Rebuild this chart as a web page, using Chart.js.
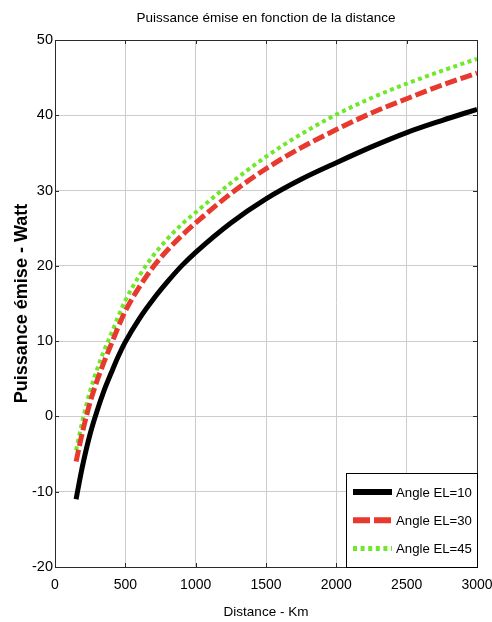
<!DOCTYPE html>
<html>
<head>
<meta charset="utf-8">
<script src="https://cdn.jsdelivr.net/npm/chart.js@4/dist/chart.umd.min.js"></script>
<style>
  html, body { margin: 0; padding: 0; background: #fff; }
  #wrap { width: 492px; height: 622px; }
</style>
</head>
<body>
<div id="wrap"><canvas id="c" width="492" height="622"></canvas></div>
<script>
// ---- Data ----
const distances = [150, 175, 200, 250, 300, 350, 400, 450, 500, 600, 700, 800, 900, 1000, 1250, 1500, 1750, 2000, 2250, 2500, 2750, 3000];
const powerEL10 = [-11, -8.5, -6.2, -2.3, 0.8, 3.5, 5.8, 8.0, 9.9, 13.0, 15.6, 17.9, 20.0, 21.8, 25.7, 28.9, 31.5, 33.7, 35.8, 37.7, 39.3, 40.8];
const powerEL30 = [-6, -3.8, -1.7, 1.9, 4.8, 7.3, 9.6, 11.9, 14.0, 17.2, 19.9, 22.1, 24.0, 25.7, 29.6, 32.9, 35.7, 38.1, 40.3, 42.2, 44.0, 45.6];
const powerEL45 = [-4.5, -2.3, -0.2, 3.4, 6.3, 8.8, 11.0, 13.3, 15.4, 18.7, 21.4, 23.6, 25.5, 27.1, 31.0, 34.5, 37.5, 40.1, 42.3, 44.2, 45.9, 47.5];
const seriesLabels = ['Angle EL=10', 'Angle EL=30', 'Angle EL=45'];
const xTickValues = [0, 500, 1000, 1500, 2000, 2500, 3000];
const yTickValues = [-20, -10, 0, 10, 20, 30, 40, 50];
const chartTitle = 'Puissance émise en fonction de la distance';
const xTitle = 'Distance - Km';
const yTitle = 'Puissance émise - Watt';

const FAM = "'Liberation Sans', Arial, Helvetica, sans-serif";

const toXY = (vals) => distances.map((d, i) => ({ x: d, y: vals[i] }));

const AXIS_COLOR = '#2a2a2a';
const GRID_COLOR = '#cccccc';

const boxPlugin = {
  id: 'matlabBox',
  afterDatasetsDraw(chart) {
    const { ctx, chartArea: a, scales } = chart;
    ctx.save();
    ctx.strokeStyle = AXIS_COLOR;
    ctx.lineWidth = 1;
    ctx.beginPath();
    xTickValues.forEach(v => {
      const px = Math.round(scales.x.getPixelForValue(v)) + 0.5;
      ctx.moveTo(px, a.bottom); ctx.lineTo(px, a.bottom - 4);
      ctx.moveTo(px, a.top); ctx.lineTo(px, a.top + 4);
    });
    yTickValues.forEach(v => {
      const py = Math.round(scales.y.getPixelForValue(v)) + 0.5;
      ctx.moveTo(a.left, py); ctx.lineTo(a.left + 4, py);
      ctx.moveTo(a.right, py); ctx.lineTo(a.right - 4, py);
    });
    ctx.stroke();
    ctx.strokeRect(Math.round(a.left) + 0.5, Math.round(a.top) + 0.5,
                   Math.round(a.right - a.left), Math.round(a.bottom - a.top));
    ctx.restore();
  }
};

const legendPlugin = {
  id: 'boxLegend',
  afterDraw(chart) {
    const { ctx, chartArea: a } = chart;
    const w = 131, h = 94;
    const x = Math.round(a.right) - w, y = Math.round(a.bottom) - h;
    ctx.save();
    ctx.fillStyle = '#fff';
    ctx.fillRect(x, y, w, h);
    ctx.strokeStyle = '#000';
    ctx.lineWidth = 1;
    ctx.strokeRect(x + 0.5, y + 0.5, w, h);
    chart.data.datasets.forEach((ds, i) => {
      const cy = y + 19 + i * 28.3;
      ctx.strokeStyle = ds.borderColor;
      ctx.lineWidth = ds.legendWidth;
      ctx.lineCap = 'butt';
      ctx.setLineDash(ds.legendDash);
      ctx.beginPath();
      ctx.moveTo(x + 7, cy);
      ctx.lineTo(x + 46, cy);
      ctx.stroke();
      ctx.setLineDash([]);
      ctx.fillStyle = '#000';
      ctx.font = '13.2px ' + FAM;
      ctx.textBaseline = 'middle';
      ctx.textAlign = 'left';
      ctx.fillText(ds.label, x + 50, cy + 1);
    });
    ctx.restore();
  }
};

new Chart(document.getElementById('c'), {
  type: 'line',
  data: {
    datasets: [
      { label: seriesLabels[0], data: toXY(powerEL10), borderColor: '#000000', borderWidth: 5,
        legendWidth: 6, legendDash: [], borderCapStyle: 'butt' },
      { label: seriesLabels[1], data: toXY(powerEL30), borderColor: '#e8392e', borderWidth: 5,
        borderDash: [12, 4], legendWidth: 6, legendDash: [17, 4], borderCapStyle: 'butt' },
      { label: seriesLabels[2], data: toXY(powerEL45), borderColor: '#70e82a', borderWidth: 4,
        borderDash: [4, 3.5], legendWidth: 5, legendDash: [4, 3.6], borderCapStyle: 'butt' }
    ]
  },
  options: {
    responsive: false,
    animation: false,
    devicePixelRatio: 1,
    elements: {
      point: { radius: 0, hoverRadius: 0 },
      line: { cubicInterpolationMode: 'monotone', fill: false }
    },
    layout: { padding: { top: 0, right: 15, bottom: 0, left: 0 } },
    plugins: {
      legend: { display: false },
      tooltip: { enabled: false },
      title: {
        display: true,
        text: chartTitle,
        fullSize: false,
        color: '#000',
        font: { family: FAM, size: 13.5, weight: 'normal', lineHeight: 1.2 },
        padding: { top: 10, bottom: 40 - 10 - 13.5 * 1.2 }
      }
    },
    scales: {
      x: {
        type: 'linear',
        min: 0, max: 3000,
        afterBuildTicks(scale) { scale.ticks = xTickValues.map(v => ({ value: v })); },
        afterFit(scale) { scale.height = 55; scale.paddingRight = 0; scale.paddingLeft = 0; },
        ticks: { color: '#000', font: { family: FAM, size: 14 }, padding: 10, maxRotation: 0, autoSkip: false,
                 callback: (v) => String(v) },
        grid: { color: GRID_COLOR, lineWidth: 1, drawTicks: false },
        border: { display: true, color: AXIS_COLOR, width: 1 },
        title: { display: true, text: xTitle, color: '#000',
                 font: { family: FAM, size: 13.5, lineHeight: 1.2 }, padding: { top: 0, bottom: 2 } }
      },
      y: {
        type: 'linear',
        min: -20, max: 50,
        afterBuildTicks(scale) { scale.ticks = yTickValues.map(v => ({ value: v })); },
        afterFit(scale) { scale.width = 55; scale.paddingTop = 0; scale.paddingBottom = 0; },
        ticks: { color: '#000', font: { family: FAM, size: 14.5 }, padding: 2, autoSkip: false,
                 callback: (v) => String(v) },
        grid: { color: GRID_COLOR, lineWidth: 1, drawTicks: false },
        border: { display: true, color: AXIS_COLOR, width: 1 },
        title: { display: true, text: yTitle, color: '#000',
                 font: { family: FAM, size: 18, weight: 'bold', lineHeight: 1.2 },
                 padding: { top: 11, bottom: 0 } }
      }
    }
  },
  plugins: [boxPlugin, legendPlugin]
});
</script>
</body>
</html>
